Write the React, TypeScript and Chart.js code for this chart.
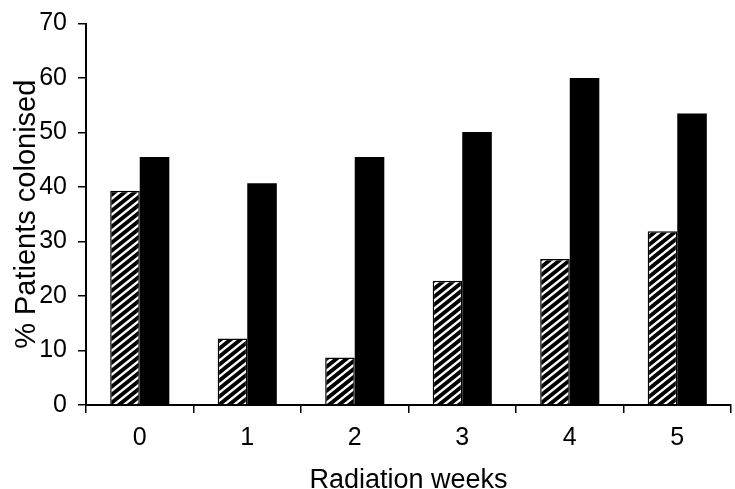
import React, { useEffect, useRef } from "react";
import { Chart, registerables } from "chart.js";

Chart.register(...registerables);

const categories = ["0", "1", "2", "3", "4", "5"];
const hatchedValues = [39.3, 12.2, 8.7, 22.8, 26.8, 31.9];
const solidValues = [45.5, 40.7, 45.5, 50.1, 60.0, 53.5];
const yTitle = "% Patients colonised";
const xTitle = "Radiation weeks";

const FONT = "'Liberation Sans', Arial, Helvetica, sans-serif";

function makeHatch(): CanvasPattern | string {
  const w = 10;
  const h = 8;
  const c = document.createElement("canvas");
  c.width = w;
  c.height = h;
  const ctx = c.getContext("2d");
  if (!ctx) return "#000";
  ctx.fillStyle = "#000";
  ctx.fillRect(0, 0, w, h);
  ctx.strokeStyle = "#fff";
  ctx.lineWidth = 2.4;
  ctx.beginPath();
  // main diagonal and its neighbours so the tile repeats seamlessly
  for (let k = -1; k <= 1; k++) {
    ctx.moveTo(-w + k * w, 2 * h);
    ctx.lineTo(2 * w + k * w, -h);
  }
  ctx.stroke();
  const p = ctx.createPattern(c, "repeat");
  return p || "#000";
}

export default function App() {
  const ref = useRef<HTMLCanvasElement | null>(null);

  useEffect(() => {
    if (!ref.current) return;
    const hatch = makeHatch();
    const chart = new Chart(ref.current, {
      type: "bar",
      data: {
        labels: categories,
        datasets: [
          {
            data: hatchedValues,
            backgroundColor: hatch as any,
            borderColor: "#000",
            borderWidth: 1.5,
            borderSkipped: "bottom",
          },
          {
            data: solidValues,
            backgroundColor: "#000",
            borderColor: "#000",
            borderWidth: 0,
          },
        ],
      },
      options: {
        responsive: false,
        animation: false,
        layout: { padding: { top: 12, right: 4, left: 0, bottom: 0 } },
        plugins: {
          legend: { display: false },
          tooltip: { enabled: false },
        },
        datasets: {
          bar: { categoryPercentage: 0.55, barPercentage: 1.0 },
        },
        scales: {
          x: {
            afterFit: (s: any) => {
              s.height = 84;
            },
            grid: {
              display: true,
              drawOnChartArea: false,
              drawTicks: true,
              tickLength: 8,
              color: "#000",
              lineWidth: 1.5,
              offset: true,
            },
            border: { display: true, color: "#000", width: 2 },
            ticks: {
              color: "#000",
              padding: 13,
              font: { family: FONT, size: 25, lineHeight: 1 },
            },
            title: {
              display: true,
              text: xTitle,
              color: "#000",
              font: { family: FONT, size: 27, lineHeight: 1 },
              padding: { top: 0, bottom: -5 },
            },
          },
          y: {
            min: 0,
            max: 70,
            afterFit: (s: any) => {
              s.width = 86;
            },
            ticks: {
              stepSize: 10,
              color: "#000",
              padding: 11,
              font: { family: FONT, size: 25, lineHeight: 1 },
            },
            grid: {
              display: true,
              drawOnChartArea: false,
              drawTicks: true,
              tickLength: 8,
              color: "#000",
              lineWidth: 1.5,
            },
            border: { display: true, color: "#000", width: 2 },
            title: {
              display: true,
              text: yTitle,
              color: "#000",
              font: { family: FONT, size: 29, lineHeight: 1 },
              padding: { top: 12, bottom: 0 },
            },
          },
        },
      },
    });
    return () => chart.destroy();
  }, []);

  return (
    <canvas
      ref={ref}
      width={735}
      height={489}
      style={{ position: "absolute", left: 0, top: 0, width: 735, height: 489 }}
    />
  );
}
